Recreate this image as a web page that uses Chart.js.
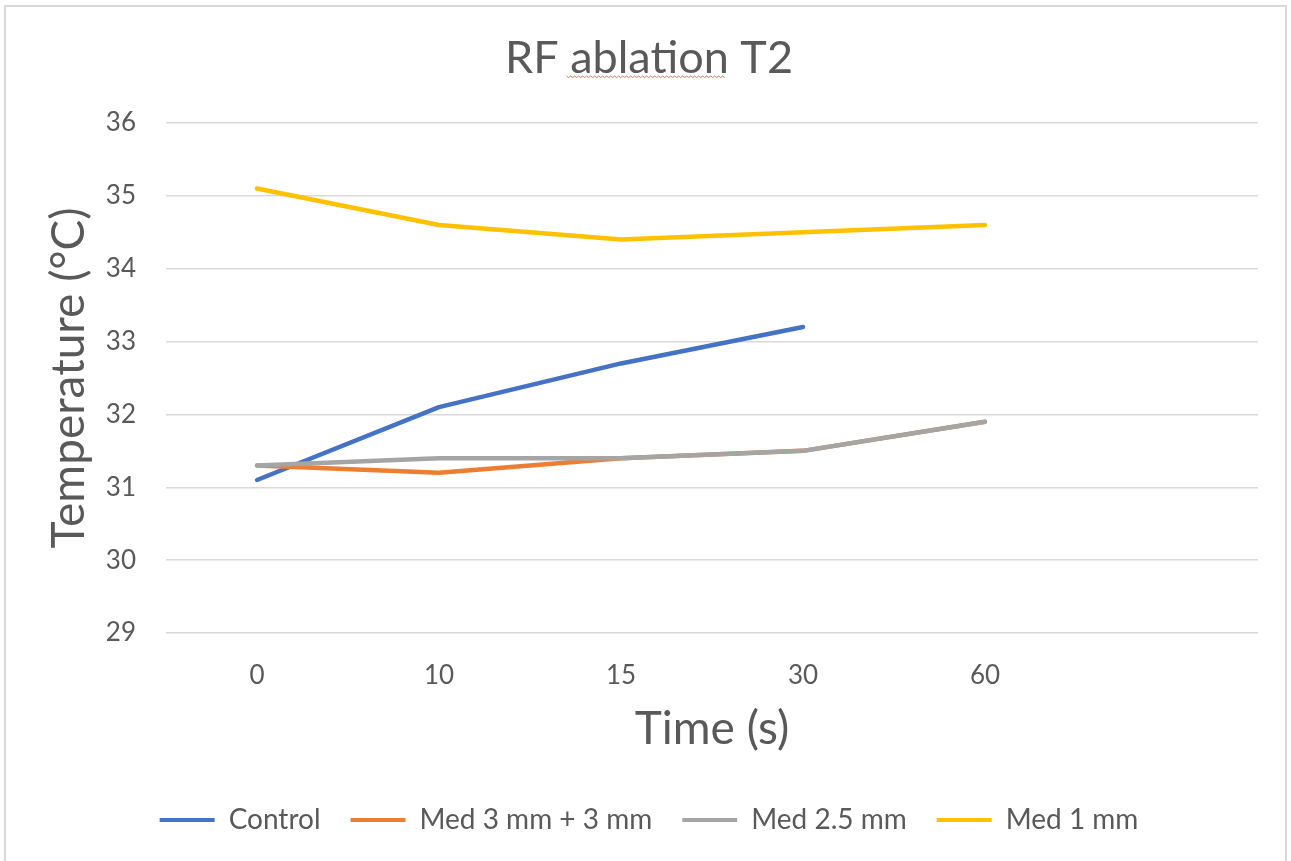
<!DOCTYPE html>
<html>
<head>
<meta charset="utf-8">
<script src="https://cdn.jsdelivr.net/npm/chart.js@4"></script>
<style>
  html, body { margin: 0; padding: 0; background: #ffffff; }
  #wrap { width: 1291px; height: 861px; position: relative; }
</style>
</head>
<body>
<div id="wrap"><canvas id="chart" width="1291" height="861"></canvas></div>
<script>
// Time points (s); the trailing blank slot keeps the empty column on the right
const timeLabels = ['0', '10', '15', '30', '60', ''];

// Temperature readings (°C)
const control   = [31.1, 32.1, 32.7, 33.2, null, null];
const med3plus3 = [31.3, 31.2, 31.4, 31.5, 31.9, null];
const med25     = [31.3, 31.4, 31.4, 31.5, 31.9, null];
const med1      = [35.1, 34.6, 34.4, 34.5, 34.6, null];

const yTicks = [29, 30, 31, 32, 33, 34, 35, 36];

const FONT = 'Lato, "Open Sans", sans-serif';
const TEXT = '#595959';
const GRID = '#d9d9d9';
const TITLE_SIZE = 45;

// Light frame around the whole chart
const framePlugin = {
  id: 'frame',
  beforeDraw(chart) {
    const ctx = chart.ctx;
    ctx.save();
    ctx.strokeStyle = GRID;
    ctx.lineWidth = 2;
    ctx.strokeRect(5, 6, chart.width - 10, chart.height + 10);
    ctx.restore();
  }
};

// Wavy red underline beneath the word "ablation" in the title
const squigglePlugin = {
  id: 'squiggle',
  afterDraw(chart) {
    const ctx = chart.ctx;
    ctx.save();
    ctx.font = TITLE_SIZE + 'px ' + FONT;
    const wFull = ctx.measureText('RF ablation T2').width;
    const wPre = ctx.measureText('RF ').width;
    const wWord = ctx.measureText('ablation').width;
    const x0 = chart.width / 2 - wFull / 2 + wPre;
    const y = 76;
    ctx.strokeStyle = 'rgba(235,70,70,0.8)';
    ctx.lineWidth = 1;
    ctx.beginPath();
    for (let x = x0; x <= x0 + wWord; x += 2) {
      const yy = y + (Math.round((x - x0) / 2) % 2 === 0 ? 0 : 1.5);
      if (x === x0) ctx.moveTo(x, yy); else ctx.lineTo(x, yy);
    }
    ctx.stroke();
    ctx.restore();
  }
};

// Later series sit on top of earlier ones
const seriesStyle = (label, data, color, order) => ({
  label,
  data,
  order,
  borderColor: color,
  backgroundColor: color,
  borderWidth: 4.5,
  pointRadius: 0,
  pointHoverRadius: 0,
  tension: 0,
  spanGaps: false,
  borderCapStyle: 'round',
  borderJoinStyle: 'round'
});

new Chart(document.getElementById('chart'), {
  type: 'line',
  data: {
    labels: timeLabels,
    datasets: [
      seriesStyle('Control', control, '#4472c4', 4),
      seriesStyle('Med 3 mm + 3 mm', med3plus3, '#ed7d31', 3),
      seriesStyle('Med 2.5 mm', med25, '#a5a5a5', 2),
      seriesStyle('Med 1 mm', med1, '#ffc000', 1)
    ]
  },
  options: {
    responsive: false,
    animation: false,
    layout: { padding: { left: 40, right: 33, top: 0, bottom: 17 } },
    plugins: {
      title: {
        display: true,
        text: 'RF ablation T2',
        color: TEXT,
        font: { family: FONT, size: TITLE_SIZE, weight: 'normal' },
        padding: { top: 31, bottom: 38 }
      },
      legend: {
        position: 'bottom',
        labels: {
          color: TEXT,
          font: { family: FONT, size: 28 },
          boxWidth: 55,
          boxHeight: 4,
          padding: 30,
          generateLabels(chart) {
            return chart.data.datasets.map((ds, i) => ({
              text: ds.label,
              fillStyle: ds.borderColor,
              strokeStyle: ds.borderColor,
              lineWidth: 0,
              fontColor: TEXT,
              datasetIndex: i,
              hidden: false
            }));
          }
        }
      },
      tooltip: { enabled: false }
    },
    scales: {
      x: {
        type: 'category',
        offset: true,
        grid: { display: false, drawTicks: false },
        border: { display: false },
        ticks: {
          color: TEXT,
          font: { family: FONT, size: 26 },
          padding: 27,
          autoSkip: false,
          maxRotation: 0
        },
        title: {
          display: true,
          text: 'Time (s)',
          color: TEXT,
          font: { family: FONT, size: 46 },
          padding: { top: 0, bottom: 19 }
        },
        afterFit(scale) { scale.height = 143; }
      },
      y: {
        min: 29,
        max: 36,
        afterBuildTicks(scale) { scale.ticks = yTicks.map(v => ({ value: v })); },
        grid: { color: GRID, lineWidth: 1.5, drawTicks: false },
        border: { display: false },
        ticks: {
          color: TEXT,
          font: { family: FONT, size: 26 },
          padding: 30
        },
        title: {
          display: true,
          text: 'Temperature (°C)',
          color: TEXT,
          font: { family: FONT, size: 46 },
          padding: { top: 2, bottom: 0 }
        },
        afterFit(scale) { scale.width = 126; }
      }
    }
  },
  plugins: [framePlugin, squigglePlugin]
});
</script>
</body>
</html>
